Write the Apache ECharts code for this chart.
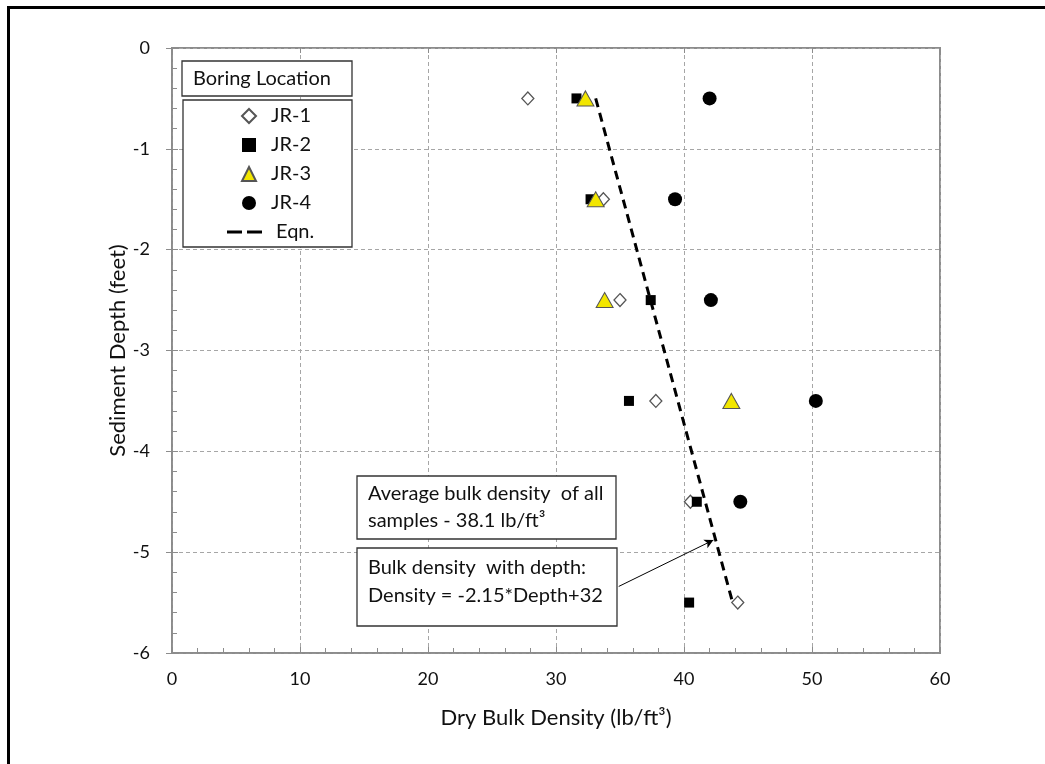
<!DOCTYPE html>
<html>
<head>
<meta charset="utf-8">
<script src="https://cdn.jsdelivr.net/npm/echarts@6/dist/echarts.min.js"></script>
<style>html,body{margin:0;padding:0;background:#fff}#c{width:1045px;height:764px}</style>
</head>
<body>
<div id="c"></div>
<script>
// ---- Data ----
const depths = [-0.5, -1.5, -2.5, -3.5, -4.5, -5.5];
const jr1 = [27.8, 33.7, 35.0, 37.8, 40.5, 44.2];
const jr2 = [31.6, 32.7, 37.4, 35.7, 41.0, 40.4];
const jr3 = [32.3, 33.1, 33.8, 43.7, null, null];
const jr4 = [42.0, 39.3, 42.1, 50.3, 44.4, null];
const eqnX = [33.1, 43.8];
const eqnDepth = [-0.5, -5.5];
const arrowFrom = [34.9, -5.34];
const arrowTo = [42.3, -4.88];
const xTicks = [0, 10, 20, 30, 40, 50, 60];
const yTicks = [0, -1, -2, -3, -4, -5, -6];

const FONT = 'Lato, "Open Sans", sans-serif';
function pts(xs) {
  const out = [];
  xs.forEach((v, i) => { if (v !== null) out.push([v, depths[i]]); });
  return out;
}
const chart = echarts.init(document.getElementById('c'), null, {renderer: 'canvas'});
const axisGray = '#8c8c8c';
const gridGray = '#a6a6a6';
const TXT = '#111';
const FS = 20;

const option = {
  animation: false,
  backgroundColor: '#fff',
  textStyle: {fontFamily: FONT},
  grid: {left: 172, right: 105, top: 48, bottom: 111, show: true, borderColor: axisGray, borderWidth: 2, backgroundColor: 'transparent'},
  xAxis: [{
    type: 'value', min: xTicks[0], max: xTicks[xTicks.length - 1], interval: 10,
    name: 'Dry Bulk Density (lb/ft³)', nameLocation: 'middle', nameGap: 54, nameMoveOverlap: false,
    nameTextStyle: {fontSize: 22, color: TXT, fontFamily: FONT},
    axisLine: {show: true, onZero: false, lineStyle: {color: axisGray, width: 1.5}},
    axisTick: {show: true, inside: true, length: 6, lineStyle: {color: axisGray}},
    minorTick: {show: true, splitNumber: 5, length: 5, lineStyle: {color: axisGray}},
    axisLabel: {fontSize: 18, color: TXT, margin: 17, fontFamily: FONT},
    splitLine: {show: true, lineStyle: {color: gridGray, type: [4, 3], width: 1}}
  }, {
    type: 'value', min: xTicks[0], max: xTicks[xTicks.length - 1], interval: 10, position: 'bottom',
    axisLine: {show: false}, axisLabel: {show: false}, splitLine: {show: false},
    axisTick: {show: true, inside: false, length: 5, lineStyle: {color: axisGray}}
  }],
  yAxis: [{
    type: 'value', min: yTicks[yTicks.length - 1], max: yTicks[0], interval: 1,
    name: 'Sediment Depth (feet)', nameLocation: 'middle', nameGap: 43, nameRotate: 90, nameMoveOverlap: false,
    nameTextStyle: {fontSize: 22, color: TXT, fontFamily: FONT},
    axisLine: {show: true, onZero: false, lineStyle: {color: axisGray, width: 1.5}},
    axisTick: {show: true, inside: true, length: 6, lineStyle: {color: axisGray}},
    minorTick: {show: true, splitNumber: 5, length: 5, lineStyle: {color: axisGray}},
    axisLabel: {fontSize: 18, color: TXT, margin: 22, fontFamily: FONT},
    splitLine: {show: true, lineStyle: {color: gridGray, type: [4, 3], width: 1}}
  }, {
    type: 'value', min: yTicks[yTicks.length - 1], max: yTicks[0], interval: 1, position: 'left',
    axisLine: {show: false}, axisLabel: {show: false}, splitLine: {show: false},
    axisTick: {show: true, inside: false, length: 6, lineStyle: {color: axisGray}}
  }],
  legend: [{
    orient: 'vertical', left: 241, top: 106, padding: 0, itemWidth: 14, itemHeight: 14, itemGap: 9,
    textStyle: {fontSize: FS, color: TXT, fontFamily: FONT, padding: [0, 0, 0, 10]},
    data: ['JR-1', 'JR-2', 'JR-3', 'JR-4']
  }, {
    orient: 'vertical', left: 227, top: 222, padding: 0, itemWidth: 35, itemHeight: 3,
    textStyle: {fontSize: FS, color: TXT, fontFamily: FONT, padding: [0, 0, 0, 9]},
    data: [{name: 'Eqn.', icon: 'path://M0,0H15V3H0Z M20,0H35V3H20Z', itemStyle: {color: '#000'}}]
  }],
  series: [
    {name: 'JR-1', type: 'scatter', data: pts(jr1), symbol: 'diamond', symbolSize: [12, 13],
     itemStyle: {color: '#fff', borderColor: '#555', borderWidth: 1.3, opacity: 1}},
    {name: 'JR-2', type: 'scatter', data: pts(jr2), symbol: 'rect', symbolSize: 10,
     itemStyle: {color: '#000', borderColor: '#000', borderWidth: 0, opacity: 1}},
    {name: 'JR-3', type: 'scatter', data: pts(jr3), symbol: 'triangle', symbolSize: [17, 15],
     itemStyle: {color: '#f2e600', borderColor: '#555', borderWidth: 1, opacity: 1}},
    {name: 'JR-4', type: 'scatter', data: pts(jr4), symbol: 'circle', symbolSize: 14,
     itemStyle: {color: '#000', opacity: 1}},
    {name: 'Eqn.', type: 'line', data: eqnX.map((v, i) => [v, eqnDepth[i]]), symbol: 'none',
     lineStyle: {color: '#000', width: 3, type: [9, 6]}, itemStyle: {color: '#000'}, z: 5},
    {name: 'arrow', type: 'scatter', data: [], silent: true,
     markLine: {silent: true, symbol: ['none', 'arrow'], symbolSize: [7, 9], label: {show: false},
       lineStyle: {color: '#000', width: 1, type: 'solid'},
       data: [[{coord: arrowFrom}, {coord: arrowTo}]]}}
  ],
  graphic: [
    {type: 'rect', left: 6, top: 5, shape: {width: 1100, height: 800}, style: {fill: 'none', stroke: '#000', lineWidth: 3}, z: 100},
    // legend title box
    {type: 'rect', shape: {x: 182, y: 61, width: 170, height: 35}, style: {fill: '#fff', stroke: '#333', lineWidth: 1.3}, z: 50},
    {type: 'text', x: 193, y: 79, style: {text: 'Boring Location', font: FS + 'px ' + FONT, fill: TXT, textVerticalAlign: 'middle'}, z: 51},
    // legend items box
    {type: 'rect', shape: {x: 183, y: 100, width: 169, height: 147}, style: {fill: '#fff', stroke: '#333', lineWidth: 1.3}, z: 1},
    // annotation boxes
    {type: 'rect', shape: {x: 357, y: 476, width: 259, height: 63}, style: {fill: '#fff', stroke: '#333', lineWidth: 1.3}, z: 50},
    {type: 'text', x: 368, y: 494, style: {text: 'Average bulk density  of all', font: FS + 'px ' + FONT, fill: TXT, textVerticalAlign: 'middle'}, z: 51},
    {type: 'text', x: 368, y: 521, style: {text: 'samples - 38.1 lb/ft³', font: FS + 'px ' + FONT, fill: TXT, textVerticalAlign: 'middle'}, z: 51},
    {type: 'rect', shape: {x: 357, y: 548, width: 260, height: 78}, style: {fill: '#fff', stroke: '#333', lineWidth: 1.3}, z: 50},
    {type: 'text', x: 368, y: 568, style: {text: 'Bulk density  with depth:', font: FS + 'px ' + FONT, fill: TXT, textVerticalAlign: 'middle'}, z: 51},
    {type: 'text', x: 368, y: 596, style: {text: 'Density = -2.15*Depth+32', font: FS + 'px ' + FONT, fill: TXT, textVerticalAlign: 'middle'}, z: 51}
  ]
};
chart.setOption(option);
</script>
</body>
</html>
